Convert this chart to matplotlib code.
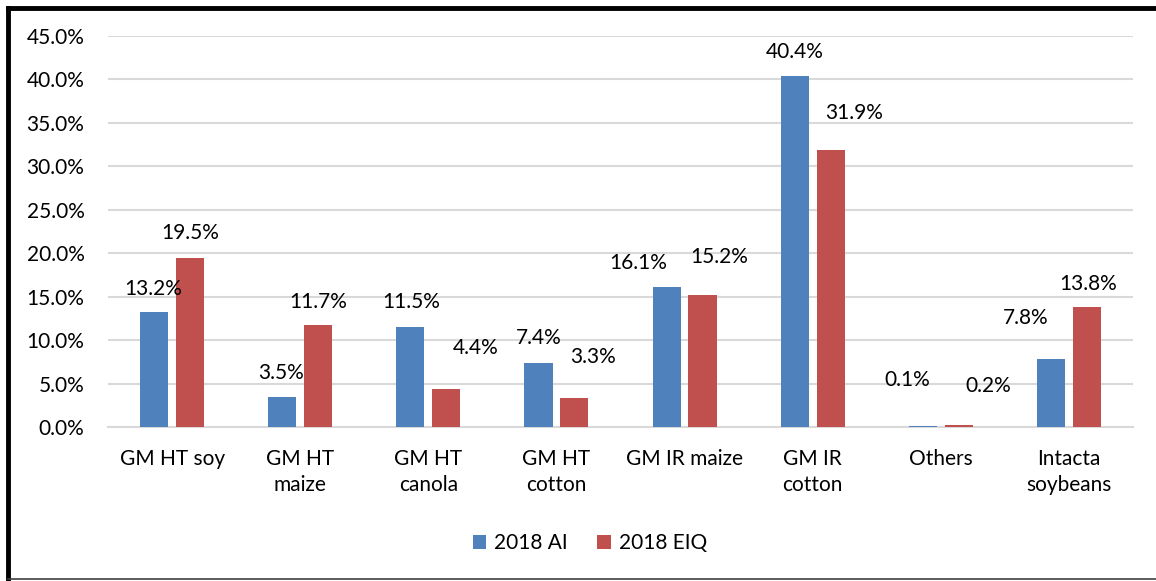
import numpy as np
import matplotlib.pyplot as plt
from matplotlib.lines import Line2D
from matplotlib.ticker import FuncFormatter

# data (percent)
categories = ['GM HT soy', 'GM HT\nmaize', 'GM HT\ncanola', 'GM HT\ncotton',
              'GM IR maize', 'GM IR\ncotton', 'Others', 'Intacta\nsoybeans']
ai_2018 = [13.2, 3.5, 11.5, 7.4, 16.1, 40.4, 0.1, 7.8]
eiq_2018 = [19.5, 11.7, 4.4, 3.3, 15.2, 31.9, 0.2, 13.8]

# label nudges (pixels) - the labels were dragged around by hand in the original
ai_offsets = [(-1, 23), (-1, 24), (1, 25), (0, 25), (-28, 24), (0, 24), (-16, 46), (-25, 41)]
eiq_offsets = [(0, 25), (0, 23), (29, 41), (19, 41), (17, 38), (23, 37), (29, 39), (1, 23)]

blue = '#4F81BD'
red = '#C0504D'
plt.rcParams['font.family'] = ['Lato', 'DejaVu Sans']

fig = plt.figure(figsize=(11.56, 5.81), dpi=100)
ax = fig.add_axes([108/1156, (581-427)/581, (1133-108)/1156, (427-36)/581])

x = np.arange(len(categories))
w = 0.22
off = 0.14
b1 = ax.bar(x - off, ai_2018, w, color=blue, label='2018 AI', zorder=3)
b2 = ax.bar(x + off, eiq_2018, w, color=red, label='2018 EIQ', zorder=3)

for bars, vals, offs in [(b1, ai_2018, ai_offsets), (b2, eiq_2018, eiq_offsets)]:
    for bar, v, (dx, dy) in zip(bars, vals, offs):
        ax.annotate('%.1f%%' % v, (bar.get_x() + bar.get_width()/2, v),
                    xytext=(dx, dy), textcoords='offset pixels',
                    ha='center', va='center', fontsize=15, color='black', zorder=4)

ax.set_xlim(-0.5, len(categories) - 0.5)
ax.set_ylim(0, 45)
ax.set_yticks(np.arange(0, 46, 5))
ax.yaxis.set_major_formatter(FuncFormatter(lambda v, p: '%.1f%%' % v))
ax.set_xticks(x)
ax.set_xticklabels(categories, linespacing=1.35)
ax.tick_params(axis='both', length=0, labelsize=15, colors='black')
ax.tick_params(axis='y', pad=17)
ax.tick_params(axis='x', pad=16)
ax.grid(axis='y', color='#D9D9D9', linewidth=1.5, zorder=0)
for s in ['top', 'right', 'left']:
    ax.spines[s].set_visible(False)
ax.spines['bottom'].set_color('#D9D9D9')
ax.spines['bottom'].set_linewidth(1.5)

fig.legend(handles=[b1, b2], loc='center', bbox_to_anchor=(590/1156, (581-543)/581),
           ncol=2, frameon=False, fontsize=15, handlelength=0.65, handleheight=0.65,
           handletextpad=0.4, columnspacing=1.4)

# frame around the picture (left/top heavy, bottom thin)
fig.add_artist(Line2D([8/1156, 8/1156], [0, 1 - 8/581], color='black', linewidth=3.5,
                      solid_capstyle='projecting'))
fig.add_artist(Line2D([8/1156, 1], [1 - 8/581, 1 - 8/581], color='black', linewidth=3.5,
                      solid_capstyle='projecting'))
fig.add_artist(Line2D([8/1156, 1], [2/581, 2/581], color='#404040', linewidth=1.2))

fig.savefig('out.png', dpi=100, facecolor='white')
